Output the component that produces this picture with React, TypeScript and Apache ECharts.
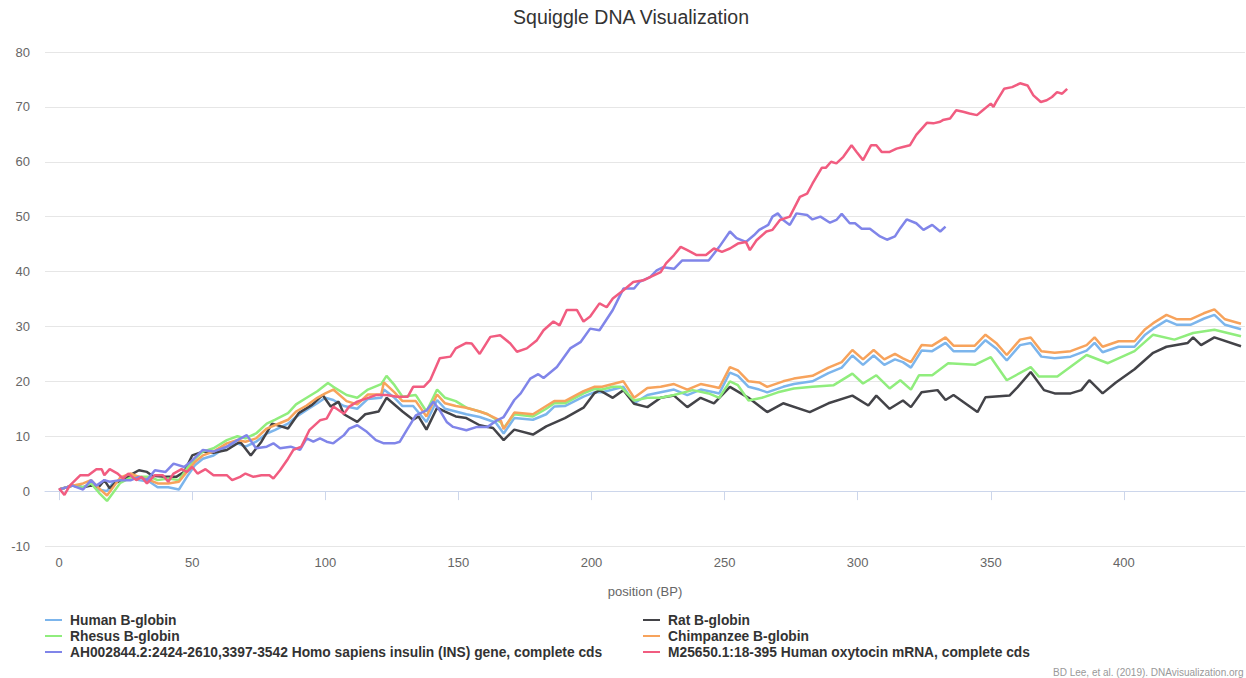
import React, { useEffect, useRef } from "react";
import * as echarts from "echarts";

const TITLE = "Squiggle DNA Visualization";
const X_NAME = "position (BP)";
const CREDIT = "BD Lee, et al. (2019). DNAvisualization.org";
const X_TICKS = [0, 50, 100, 150, 200, 250, 300, 350, 400];

const SERIES_NAMES = [
  "Human B-globin",
  "Rat B-globin",
  "Rhesus B-globin",
  "Chimpanzee B-globin",
  "AH002844.2:2424-2610,3397-3542 Homo sapiens insulin (INS) gene, complete cds",
  "M25650.1:18-395 Human oxytocin mRNA, complete cds",
];
const COLORS = ["#7cb5ec", "#434348", "#90ed7d", "#f7a35c", "#8085e9", "#f15c80"];

const human: number[][] = [
  [0, 0.3], [5, 1], [9, 0.7], [12, 1.4], [15, 0.3], [18, 0], [20, 1.4], [23, 2], [27, 2.6], [30, 2],
  [34, 1.7], [37, 0.7], [41, 0.7], [45, 0.3], [48, 2.6], [51, 4.7], [54, 5.9], [58, 6.5], [63, 8.1],
  [67, 8.7], [70, 8.1], [74, 9], [78, 10.5], [81, 11.1], [86, 12.3], [89, 13.5], [93, 14.8], [97, 16],
  [100, 17], [103, 16.6], [107, 15.5], [112, 15], [116, 16.8], [121, 17], [122, 18.5], [126, 17],
  [129, 15.5], [133, 15.5], [138, 12.6], [142, 16.6], [145, 15], [149, 14.5], [153, 14], [158, 13.5],
  [161, 13], [164, 12.5], [167, 10.5], [171, 13.3], [178, 13], [183, 14], [186, 15.4], [190, 15.5],
  [197, 17.2], [201, 18], [204, 18], [208, 18.5], [212, 19], [216, 16], [221, 17.5], [226, 18],
  [231, 18.5], [236, 17.5], [241, 18.5], [246, 18], [248, 17.8], [252, 21.6], [255, 21], [259, 19],
  [263, 18.5], [266, 18], [272, 19], [276, 19.5], [283, 20], [289, 21.5], [294, 22.5], [298, 24.7],
  [302, 23], [306, 24.7], [310, 23], [314, 24], [317, 23.5], [320, 22.5], [324, 25.6], [328, 25.5],
  [333, 27], [336, 25.5], [344, 25.5], [348, 27.5], [352, 26], [356, 23.8], [361, 26.6], [365, 27],
  [369, 24.5], [374, 24.2], [380, 24.5], [386, 25.6], [389, 27], [392, 25.3], [398, 26.3], [404, 26.3],
  [408, 28.5], [411, 29.6], [416, 31.1], [420, 30.3], [425, 30.3], [430, 31.4], [434, 32.1], [438, 30.3],
  [444, 29.5],
];

const rat: number[][] = [
  [0, 0.3], [5, 1], [9, 0.7], [12, 1], [15, 0.8], [17, 2], [19, 0.5], [21, 1.5], [24, 2], [27, 3],
  [30, 3.8], [33, 3.5], [35, 2.8], [40, 2.6], [44, 2.6], [47, 3.5], [50, 6.5], [54, 7.2], [58, 7],
  [63, 7.5], [68, 9], [72, 6.5], [76, 9], [80, 12.3], [86, 11.4], [90, 14.2], [95, 15.7], [99, 17.5],
  [102, 15.4], [105, 16.3], [107, 14], [112, 12.6], [115, 14], [120, 14.5], [123, 17], [129, 14.5],
  [133, 13], [135, 13.6], [138, 11.2], [142, 15.2], [145, 14.5], [149, 13.6], [153, 13.3], [158, 12],
  [163, 11.5], [167, 9.3], [171, 11.2], [178, 10.3], [183, 11.8], [190, 13.3], [197, 15.2], [201, 17.8],
  [203, 18.4], [208, 17], [212, 18.4], [216, 15.9], [221, 15.3], [226, 17], [231, 17.4], [236, 15.3],
  [241, 17], [246, 16], [252, 19], [259, 17], [266, 14.4], [272, 16], [282, 14.4], [289, 16],
  [298, 17.4], [304, 15.6], [307, 17.4], [312, 15], [317, 16.5], [320, 15.3], [324, 18], [330, 18.4],
  [333, 16.6], [336, 17.5], [345, 14.4], [348, 17.1], [357, 17.4], [360, 18.9], [365, 21.7], [370, 18.4],
  [374, 17.8], [380, 17.8], [384, 18.4], [387, 20.2], [392, 17.8], [397, 19.8], [404, 22.2], [411, 25.2],
  [416, 26.3], [424, 27], [426, 28], [429, 26.6], [434, 28], [444, 26.4],
];

const rhesus: number[][] = [
  [0, 0.3], [5, 1], [9, 0.7], [12, 1.4], [15, -0.3], [18, -1.8], [20, -0.5], [23, 1.5], [27, 2.5],
  [30, 2.6], [34, 2.6], [37, 2], [41, 2.3], [45, 2], [48, 4.1], [51, 5.9], [54, 7.2], [58, 7.8], [63, 9.3],
  [67, 10], [70, 9.6], [74, 10.5], [78, 12.3], [81, 13], [86, 14.2], [89, 15.8], [93, 17], [97, 18.2],
  [101, 19.7], [103, 19], [108, 17.5], [112, 17], [116, 18.5], [121, 19.5], [123, 21], [126, 19.3],
  [129, 17.2], [134, 17.5], [138, 14.5], [142, 18.5], [145, 17], [149, 16.4], [153, 15.2], [158, 14.5],
  [161, 14], [166, 12.5], [167, 11.5], [171, 14], [178, 13.6], [183, 15], [186, 16], [190, 16], [197, 17.8],
  [201, 18.6], [204, 18.5], [208, 19], [211, 19], [216, 16.5], [221, 17], [226, 17], [231, 17.5],
  [238, 18.4], [244, 17.8], [248, 17], [252, 20], [255, 19.3], [259, 16.5], [264, 17], [270, 18],
  [276, 18.7], [283, 19], [291, 19.3], [298, 21.4], [302, 19.6], [307, 21.1], [312, 18.7], [316, 20.2],
  [320, 18.5], [323, 21.1], [328, 21.1], [334, 23.3], [344, 23], [350, 24.4], [356, 20.2], [365, 22.6],
  [368, 20.9], [375, 20.9], [386, 24.8], [394, 23.3], [404, 25.5], [411, 28.5], [419, 27.6], [426, 28.8],
  [434, 29.4], [444, 28.2],
];

const chimp: number[][] = [
  [0, 0.3], [5, 1], [9, 1.4], [12, 2], [15, 0.5], [18, -0.8], [20, 0.5], [23, 2.5], [27, 3.2], [30, 2.6],
  [34, 2], [37, 1.4], [41, 1.4], [45, 1.7], [48, 3.5], [51, 5.3], [54, 6.5], [58, 7.2], [63, 8.7], [67, 9.3],
  [70, 9], [74, 9.6], [78, 11.4], [81, 12], [86, 13], [89, 14.5], [93, 15.6], [97, 17], [100, 17.8],
  [103, 18.5], [108, 16.4], [112, 15.8], [116, 17.6], [121, 17.6], [122, 19.8], [126, 18], [129, 16.4],
  [134, 16.4], [138, 13.6], [142, 17.6], [145, 16], [149, 15.5], [153, 15.2], [158, 14.5], [161, 14],
  [166, 12.8], [167, 11.3], [171, 14.3], [178, 14], [183, 15.5], [186, 16.4], [190, 16.4], [197, 18.2],
  [201, 19], [204, 19], [208, 19.5], [212, 20], [216, 17], [221, 18.8], [226, 19], [231, 19.5],
  [236, 18.5], [241, 19.5], [246, 19], [248, 18.8], [252, 22.6], [255, 22], [259, 20], [263, 19.8],
  [266, 19], [272, 20], [276, 20.5], [283, 21], [289, 22.5], [294, 23.5], [298, 25.7], [302, 24],
  [306, 25.7], [310, 24], [314, 25], [317, 24.2], [320, 23.5], [324, 26.6], [328, 26.5], [333, 28],
  [336, 26.5], [344, 26.5], [348, 28.5], [352, 27], [356, 24.8], [361, 27.6], [365, 28], [369, 25.5],
  [374, 25.2], [380, 25.5], [386, 26.6], [389, 28], [392, 26.3], [398, 27.3], [404, 27.3], [408, 29.5],
  [411, 30.6], [416, 32.1], [420, 31.3], [425, 31.3], [430, 32.4], [434, 33.1], [438, 31.3], [444, 30.5],
];

const insulin: number[][] = [
  [0, 0.3], [5, 1], [9, 0.3], [12, 2], [14, 1], [17, 2], [19, 1.7], [23, 2], [27, 2], [30, 2.6], [33, 2],
  [36, 3.8], [40, 3.5], [43, 5], [47, 4.4], [50, 5.6], [54, 7.5], [58, 7.2], [63, 8.1], [67, 9.3],
  [70.5, 10.2], [74, 7.8], [78, 8.1], [80.5, 8.7], [83, 7.8], [87, 8.1], [90.5, 7.5], [93, 9.6], [95.5, 9],
  [98, 9.6], [100.5, 9], [103, 8.7], [107, 10.2], [109, 11.4], [112, 12], [115.6, 10.8], [119, 9.3],
  [122, 8.7], [126, 8.7], [128, 9], [130.6, 11.1], [134, 13.8], [138, 14.7], [140.6, 16.3], [143, 14.7],
  [145.6, 12.6], [148, 11.7], [153, 11.1], [157, 11.7], [161, 11.7], [164.5, 12.9], [167, 13.5],
  [171, 16.6], [173.4, 17.8], [177, 20.5], [180, 21.3], [182, 20.6], [187, 22.6], [192, 26], [196, 27.2],
  [199.5, 29.6], [203, 29.3], [208, 33], [212, 36.9], [216, 36.9], [218, 38.1], [222, 39], [224.5, 40.2],
  [227, 40.8], [231, 40.5], [234, 42], [241, 42], [244, 42], [248, 44.5], [252, 47.3], [254.5, 46.1],
  [258, 45.4], [261, 46.6], [263, 47.6], [266.4, 48.5], [268, 50], [270, 50.6], [272, 49.4], [274.5, 48.5],
  [277, 50.6], [281, 50.3], [283, 49.5], [286, 50], [289.6, 48.9], [292, 49.4], [294, 50.5], [297, 48.8],
  [299, 48.8], [301.5, 47.8], [304.6, 47.8], [308.4, 46.4], [311, 45.8], [314, 46.4], [316, 47.9],
  [318.4, 49.5], [322, 48.8], [324.7, 47.6], [328, 48.5], [331, 47.3], [333, 48.2],
];

const oxytocin: number[][] = [
  [0, 0.5], [2, -0.7], [4, 1], [8, 2.9], [11, 2.9], [14, 4], [16, 4], [17, 2.9], [19, 4], [22, 3.2],
  [24, 2.3], [26, 3.2], [29, 2], [31, 2.6], [33, 1.4], [36, 2.9], [39, 2.9], [41, 1.7], [43, 3.2], [46, 4],
  [48, 3.5], [50, 4.4], [52, 3.2], [55, 4], [58, 2.9], [63, 2.9], [65, 2], [68, 2.6], [70, 3.2], [73, 2.6],
  [76, 2.9], [79, 2.9], [80.5, 2.3], [83, 3.8], [86, 5.9], [88, 7.5], [91, 8.1], [94, 11.1], [98, 12.9],
  [100.5, 13.2], [103, 15.4], [107, 14.1], [109, 15.4], [112, 16.3], [115.6, 16.9], [119, 17.5],
  [123, 17.5], [127, 17.2], [131, 17.2], [133, 19], [137, 19], [139.4, 20.2], [143, 24.2], [147, 24.5],
  [149, 26], [153, 27], [155, 26.9], [158, 25], [162, 28.1], [165.7, 28.4], [169.5, 26.9], [172, 25.4],
  [175.7, 26], [179.5, 27.5], [182, 29.3], [185.7, 30.9], [188, 30.2], [190.7, 33], [194.5, 33],
  [197, 30.9], [199.5, 31.8], [203, 34.2], [205.7, 33.5], [208, 35.1], [212, 36.6], [215.7, 38.1],
  [219.5, 38.4], [222, 39], [226, 39.9], [228, 41.5], [231, 43], [233.5, 44.5], [236, 43.9], [239.5, 43],
  [243, 43], [246, 44.2], [249, 43.6], [252, 44.2], [255, 45.1], [258, 45.4], [259.5, 43.9], [262, 45.7],
  [265.7, 47.3], [268, 47.6], [270.8, 49.4], [274.5, 50], [278.3, 53.6], [281, 54.2], [283, 56],
  [286.5, 58.9], [288, 58.9], [290, 60], [292, 59.7], [294.6, 60.9], [297.7, 63], [299.6, 61.8],
  [302, 60.3], [305, 63], [307, 63], [309, 61.8], [312, 61.8], [314.6, 62.4], [317, 62.7], [319.6, 63],
  [322, 64.9], [326, 67.1], [328.4, 67], [331, 67.3], [332, 67.6], [334.7, 67.9], [337, 69.4],
  [339.6, 69.1], [342, 68.8], [344.8, 68.5], [347, 69.4], [350, 70.6], [351, 70], [352, 70.9], [355, 73.3],
  [358, 73.6], [361, 74.3], [363.8, 73.9], [366, 72.1], [368.8, 70.9], [371, 71.2], [373, 71.8],
  [374.9, 72.7], [376.8, 72.4], [378.7, 73.3],
];

const SERIES_DATA = [human, rat, rhesus, chimp, insulin, oxytocin];

const FONT = "'Liberation Sans', Arial, Helvetica, sans-serif";

export default function App() {
  const ref = useRef<HTMLDivElement>(null);
  useEffect(() => {
    if (!ref.current) return;
    const chart = echarts.init(ref.current, undefined, { renderer: "svg" });
    const legendCommon = {
      orient: "vertical" as const,
      icon: "rect",
      itemWidth: 17,
      itemHeight: 2,
      itemGap: 0,
      padding: 0,
      selectedMode: false,
      textStyle: {
        fontFamily: FONT,
        fontSize: 13.8,
        fontWeight: "bold" as const,
        color: "#333333",
        lineHeight: 16,
        padding: [0, 0, 0, 3],
      },
    };
    chart.setOption({
      animation: false,
      backgroundColor: "#ffffff",
      textStyle: { fontFamily: FONT },
      title: {
        text: TITLE,
        left: 631,
        top: 7,
        padding: 0,
        textAlign: "center",
        textStyle: { fontFamily: FONT, fontSize: 19.5, fontWeight: "normal", color: "#333333" },
      },
      legend: [
        { ...legendCommon, left: 45, top: 612, data: [SERIES_NAMES[0], SERIES_NAMES[2], SERIES_NAMES[4]] },
        { ...legendCommon, left: 643, top: 612, data: [SERIES_NAMES[1], SERIES_NAMES[3], SERIES_NAMES[5]] },
      ],
      grid: { left: 45, right: 1, top: 52, bottom: 132, containLabel: false },
      xAxis: {
        type: "value",
        min: -5.3,
        max: 445.5,
        name: X_NAME,
        nameLocation: "middle",
        nameGap: 39,
        nameTextStyle: { fontFamily: FONT, fontSize: 13, color: "#666666" },
        axisLine: { show: true, lineStyle: { color: "#ccd6eb", width: 1 } },
        axisTick: { show: true, length: 9, lineStyle: { color: "#ccd6eb" }, customValues: X_TICKS },
        axisLabel: { customValues: X_TICKS, color: "#666666", fontSize: 13, margin: 10, fontFamily: FONT },
        splitLine: { show: false },
      },
      yAxis: {
        type: "value",
        min: -10,
        max: 80,
        interval: 10,
        axisLine: { show: false },
        axisTick: { show: false },
        axisLabel: { color: "#666666", fontSize: 13, margin: 15, fontFamily: FONT },
        splitLine: { lineStyle: { color: "#e6e6e6", width: 1 } },
      },
      graphic: [
        {
          type: "text",
          x: 1053,
          y: 672,
          style: { text: CREDIT, fill: "#999999", fontSize: 10, fontFamily: FONT, verticalAlign: "middle" },
        },
      ],
      series: SERIES_NAMES.map((name, i) => ({
        name,
        type: "line",
        data: SERIES_DATA[i],
        showSymbol: false,
        symbol: "none",
        color: COLORS[i],
        lineStyle: { width: 2.5, color: COLORS[i] },
        emphasis: { disabled: true },
      })),
    });
    return () => chart.dispose();
  }, []);
  return <div ref={ref} style={{ position: "fixed", left: 0, top: 0, width: 1246, height: 678 }} />;
}
